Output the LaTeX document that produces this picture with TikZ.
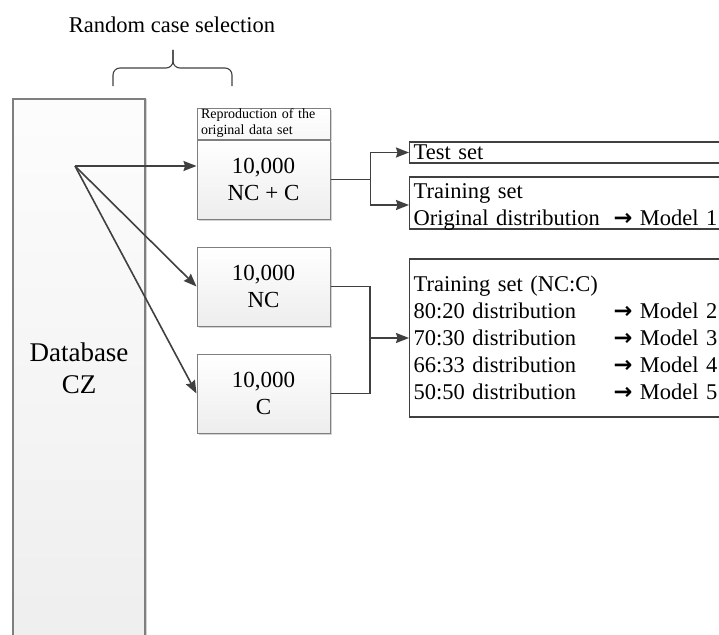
\documentclass[tikz,border=0pt]{standalone}
\usepackage{fontspec}
\setmainfont{Liberation Serif}
\newfontfamily\arrowfont{DejaVu Sans}
\usetikzlibrary{arrows.meta,positioning,shadows}

\definecolor{linegray}{HTML}{404040}
\definecolor{boxgray}{HTML}{7F7F7F}

\newcommand{\distline}[2]{\makebox[200pt][l]{#1}{\arrowfont\bfseries →} Model~#2}

\begin{document}
\begin{tikzpicture}[x=1pt,y=-1pt,>={Stealth[length=13pt,width=10pt,inset=1.5pt]},
    auto,node distance=27pt,
    sample node/.style={rectangle,draw=boxgray,line width=1pt,top color=white,bottom color=gray!14,
      drop shadow={shadow xshift=2pt,shadow yshift=-2pt,fill=gray,opacity=0.35},
      minimum width=133pt,minimum height=79pt,inner sep=0pt,align=center,
      font=\fontsize{23}{27}\selectfont},
    label node/.style={sample node,minimum height=31pt,align=left,text width=125pt,
      inner xsep=4pt,bottom color=gray!6,font=\fontsize{14}{16}\selectfont},
    db node/.style={rectangle,draw=boxgray,line width=1.2pt,top color=gray!2,bottom color=gray!13,
      drop shadow={shadow xshift=2pt,shadow yshift=0pt,fill=gray,opacity=0.35},
      minimum width=132pt,minimum height=538pt,align=center,
      font=\fontsize{27}{32}\selectfont},
    set node/.style={rectangle,draw=linegray,line width=1.2pt,fill=white,anchor=west,
      align=left,text width=340pt,inner xsep=4pt,inner ysep=0pt,
      font=\fontsize{22.5}{27}\selectfont},
    link/.style={linegray,line width=1.6pt}]

  \useasboundingbox (0,0) rectangle (719,634);

  \node[font=\fontsize{22.5}{27}\selectfont] (title) at (172,25) {Random case selection};
  \draw[linegray,line width=1.1pt,rounded corners=7pt] (113,86) -- (113,68) -- (173,68) -- (173,50);
  \draw[linegray,line width=1.1pt,rounded corners=7pt] (232,86) -- (232,68) -- (173,68) -- (173,50);

  \node[db node] (db) at (79,368) {Database\\CZ};
  \coordinate (src) at (75,166);

  \node[label node] (4) at (263.5,123.5) {Reproduction of the\\original data set};
  \node[sample node] (1) [below=0pt of 4] {10,000\\NC + C};
  \node[sample node] (2) [below=of 1] {10,000\\NC};
  \node[sample node] (3) [below=of 2] {10,000\\C};

  \node[set node,minimum height=21pt] (5) at (409,152.5) {Test set};
  \node[set node,minimum height=52pt,text depth=24pt] (6) at (409,203)
    {Training set\\\distline{Original distribution}{1}};
  \node[set node,minimum height=158pt] (7) at (409,338)
    {Training set (NC:C)\\
     \distline{80:20 distribution}{2}\\
     \distline{70:30 distribution}{3}\\
     \distline{66:33 distribution}{4}\\
     \distline{50:50 distribution}{5}};

  \path[->,link]
    (src) edge (src -| 1.west)
          edge (2.west)
          edge (3.west);

  \draw[link] (1.east) -- ++(40,0) coordinate (j1);
  \draw[->,link] (j1) |- (5.west);
  \draw[->,link] (j1) |- ([yshift=-2pt]6.west);

  \path (7.west) ++(-39,0) coordinate (j2);
  \draw[link] (2.east) -| (j2);
  \draw[link] (3.east) -| (j2);
  \draw[->,link] (j2) -- (7.west);
\end{tikzpicture}
\end{document}
